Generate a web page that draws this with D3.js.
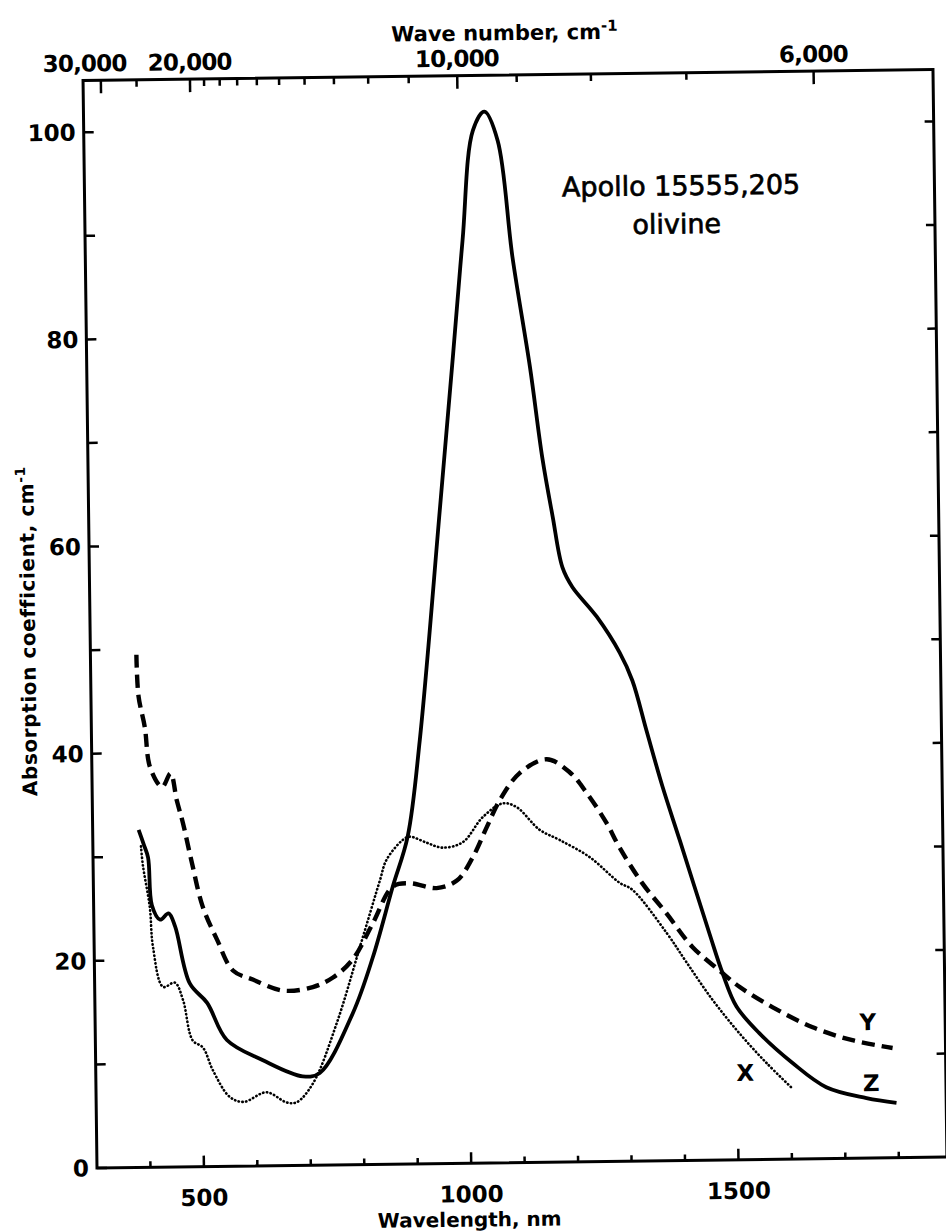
<!DOCTYPE html>
<html>
<head>
<meta charset="utf-8">
<script src="https://cdn.jsdelivr.net/npm/d3@7/dist/d3.min.js"></script>
<style>
  body { margin: 0; background: #fff; }
  svg text { font-family: "DejaVu Sans", sans-serif; fill: #000; }
</style>
</head>
<body>
<svg id="chart" width="946" height="1232"></svg>
<script>
// Absorption spectra of Apollo 15555,205 olivine, three polarizations.
// Each point: [wavelength in nm, absorption coefficient in cm^-1]
const curveZ = [
  [386,32.6],[395,31.2],[403,29.9],[409,25.3],[424,23.9],[440,24.5],[452,23.2],
  [478,17.7],[510,15.8],[546,12.2],[613,10.2],[687,8.6],[719,8.9],[782,14.6],
  [821,20.0],[860,26.8],[889,31.6],[914,40.9],[957,63.1],[985,77.8],[1006,89.1],
  [1028,99.7],[1050,101.5],[1074,98.7],[1099,87.4],[1129,76.8],[1150,68.0],
  [1168,62.3],[1185,57.4],[1203,55.5],[1248,52.6],[1290,49.1],[1313,46.4],
  [1338,41.6],[1367,36.1],[1398,30.9],[1451,21.9],[1475,18.0],[1500,14.8],
  [1542,12.2],[1603,9.3],[1666,6.9],[1741,5.8],[1797,5.3]
];
const curveY = [
  [386,49.5],[389,45.5],[400,42.5],[409,38.6],[431,36.7],[447,38.0],[458,35.4],
  [469,33.2],[485,29.3],[504,25.1],[530,21.9],[559,18.9],[596,18.0],[652,16.9],
  [708,17.2],[746,18.1],[783,19.8],[822,23.3],[860,26.8],[892,27.1],[942,26.6],
  [980,27.3],[1010,29.5],[1037,32.4],[1062,35.0],[1100,37.6],[1151,38.9],
  [1194,37.6],[1225,35.6],[1261,32.7],[1285,30.3],[1327,26.8],[1371,23.9],
  [1419,20.6],[1469,18.3],[1506,16.7],[1567,14.7],[1642,12.7],[1716,11.4],
  [1791,10.6]
];
const curveX = [
  [390,31.0],[393,29.2],[405,25.1],[410,21.3],[428,17.4],[450,17.8],[465,16.1],
  [482,12.2],[501,11.5],[519,9.3],[550,6.7],[576,6.2],[619,7.1],[656,6.1],
  [675,6.1],[706,7.9],[752,13.7],[797,21.0],[836,27.4],[849,29.4],[880,31.3],
  [893,31.6],[924,31.0],[954,30.5],[992,31.0],[1030,33.4],[1068,34.7],
  [1094,34.3],[1136,32.1],[1173,31.1],[1229,29.4],[1284,26.9],[1308,26.2],
  [1371,22.0],[1408,19.1],[1455,15.5],[1505,12.2],[1555,9.3],[1601,6.9]
];

// Axis ticks
const wavelengthLabels = [500, 1000, 1500];
const wavelengthMinor = [400, 600, 700, 800, 900, 1100, 1200, 1300, 1400, 1600, 1700, 1800];
const wavenumberLabels = [30000, 20000, 10000, 6000];
const wavenumberLabelText = ["30,000", "20,000", "10,000", "6,000"];
const wavenumberMinor = [25000, 19000, 18000, 17000, 16000, 15000, 14000, 13000, 12000, 11000, 9000, 8000, 7000];
const absorptionLabels = [0, 20, 40, 60, 80, 100];
const absorptionMinor = [10, 30, 50, 70, 90];

// Curve labels, anchored in data space
const curveNames = ["X", "Y", "Z"];
const curveNameAnchors = [[1515, 8.4], [1745, 13.15], [1750, 7.25]];
const sampleTitle = ["Apollo 15555,205", "olivine"];
const sampleTitleAnchors = [[1416, 93.2], [1407, 89.5]];

const svg = d3.select("#chart");
const plotLeft = 90, plotRight = 940, plotTop = 75, plotBottom = 1162.6;

const x = d3.scaleLinear().domain([300, 1890]).range([plotLeft, plotRight]);
const y = d3.scaleLinear().domain([0, 105]).range([plotBottom, plotTop]);

// whole figure sits a little askew on the page
const g = svg.append("g").attr("transform", "rotate(-0.735, 515, 620)");

// frame
g.append("rect")
  .attr("x", plotLeft).attr("y", plotTop)
  .attr("width", plotRight - plotLeft).attr("height", plotBottom - plotTop)
  .attr("fill", "none").attr("stroke", "#000").attr("stroke-width", 3);

// bottom axis: wavelength
const bottomAxis = g.append("g").attr("transform", `translate(0,${plotBottom})`);
bottomAxis.selectAll("line.major").data(wavelengthLabels).join("line")
  .attr("class", "major")
  .attr("x1", d => x(d)).attr("x2", d => x(d)).attr("y1", 0).attr("y2", -11)
  .attr("stroke", "#000").attr("stroke-width", 2.5);
bottomAxis.selectAll("line.minor").data(wavelengthMinor).join("line")
  .attr("class", "minor")
  .attr("x1", d => x(d)).attr("x2", d => x(d)).attr("y1", 0).attr("y2", -6)
  .attr("stroke", "#000").attr("stroke-width", 2.5);
bottomAxis.selectAll("text").data(wavelengthLabels).join("text")
  .attr("x", d => x(d)).attr("y", 39)
  .attr("text-anchor", "middle").attr("font-size", 23).attr("font-weight", "bold")
  .text(d => d);
g.append("text")
  .attr("x", 462).attr("y", 1226)
  .attr("text-anchor", "middle").attr("font-size", 20).attr("font-weight", "bold")
  .text("Wavelength, nm");

// top axis: wave number (cm^-1 = 1e7 / nm)
const wnX = wn => x(1e7 / wn);
const topAxis = g.append("g").attr("transform", `translate(0,${plotTop})`);
topAxis.selectAll("line.major").data(wavenumberLabels).join("line")
  .attr("class", "major")
  .attr("x1", d => wnX(d)).attr("x2", d => wnX(d)).attr("y1", 0).attr("y2", 13)
  .attr("stroke", "#000").attr("stroke-width", 2.5);
topAxis.selectAll("line.minor").data(wavenumberMinor).join("line")
  .attr("class", "minor")
  .attr("x1", d => wnX(d)).attr("x2", d => wnX(d)).attr("y1", 0).attr("y2", 7)
  .attr("stroke", "#000").attr("stroke-width", 2.5);
topAxis.selectAll("text").data(wavenumberLabels).join("text")
  .attr("x", (d, i) => wnX(d) + (i === 0 ? -16 : 0)).attr("y", -9)
  .attr("text-anchor", "middle").attr("font-size", 23).attr("font-weight", "bold")
  .attr("letter-spacing", -0.8)
  .text((d, i) => wavenumberLabelText[i]);
const wnTitle = g.append("text")
  .attr("x", 512).attr("y", 40)
  .attr("text-anchor", "middle").attr("font-size", 21).attr("font-weight", "bold");
wnTitle.append("tspan").text("Wave number, cm");
wnTitle.append("tspan").attr("dy", -8).attr("font-size", 15).text("-1");

// left axis: absorption coefficient
const leftAxis = g.append("g").attr("transform", `translate(${plotLeft},0)`);
leftAxis.selectAll("line").data(absorptionLabels.concat(absorptionMinor)).join("line")
  .attr("x1", 0).attr("x2", 10).attr("y1", d => y(d)).attr("y2", d => y(d))
  .attr("stroke", "#000").attr("stroke-width", 2.5);
leftAxis.selectAll("text").data(absorptionLabels).join("text")
  .attr("x", -8).attr("y", d => y(d))
  .attr("dy", "0.36em")
  .attr("text-anchor", "end").attr("font-size", 23).attr("font-weight", "bold")
  .text(d => d);
const yTitle = g.append("text")
  .attr("transform", `translate(35,${(plotTop + plotBottom) / 2 + 6}) rotate(-90)`)
  .attr("text-anchor", "middle").attr("font-size", 20).attr("font-weight", "bold")
  .attr("letter-spacing", 0.6);
yTitle.append("tspan").text("Absorption coefficient, cm");
yTitle.append("tspan").attr("dy", -8).attr("font-size", 14).text("-1");

// right axis ticks
g.append("g").attr("transform", `translate(${plotRight},0)`)
  .selectAll("line").data(absorptionLabels.concat(absorptionMinor).filter(d => d > 0)).join("line")
  .attr("x1", 0).attr("x2", -9).attr("y1", d => y(d)).attr("y2", d => y(d))
  .attr("stroke", "#000").attr("stroke-width", 2.5);

// spectra
const line = d3.line()
  .x(d => x(d[0])).y(d => y(d[1]))
  .curve(d3.curveCatmullRom.alpha(0.5));

g.append("path").datum(curveZ)
  .attr("d", line).attr("fill", "none")
  .attr("stroke", "#000").attr("stroke-width", 3.8).attr("stroke-linejoin", "round");

g.append("path").datum(curveY)
  .attr("d", line).attr("fill", "none")
  .attr("stroke", "#000").attr("stroke-width", 4.4)
  .attr("stroke-dasharray", "13,7").attr("stroke-linecap", "butt");

g.append("path").datum(curveX)
  .attr("d", line).attr("fill", "none")
  .attr("stroke", "#000").attr("stroke-width", 2.6)
  .attr("stroke-dasharray", "0.4,3.4").attr("stroke-linecap", "round");

// curve names
g.selectAll("text.curve-name").data(curveNames).join("text")
  .attr("class", "curve-name")
  .attr("x", (d, i) => x(curveNameAnchors[i][0]))
  .attr("y", (d, i) => y(curveNameAnchors[i][1]))
  .attr("dy", "0.36em")
  .attr("text-anchor", "middle").attr("font-size", 23).attr("font-weight", "bold")
  .text(d => d);

// sample title
g.selectAll("text.sample").data(sampleTitle).join("text")
  .attr("class", "sample")
  .attr("x", (d, i) => x(sampleTitleAnchors[i][0]))
  .attr("y", (d, i) => y(sampleTitleAnchors[i][1]))
  .attr("text-anchor", "middle").attr("font-size", 27)
  .attr("stroke", "#000").attr("stroke-width", 0.7)
  .text(d => d);
</script>
</body>
</html>
